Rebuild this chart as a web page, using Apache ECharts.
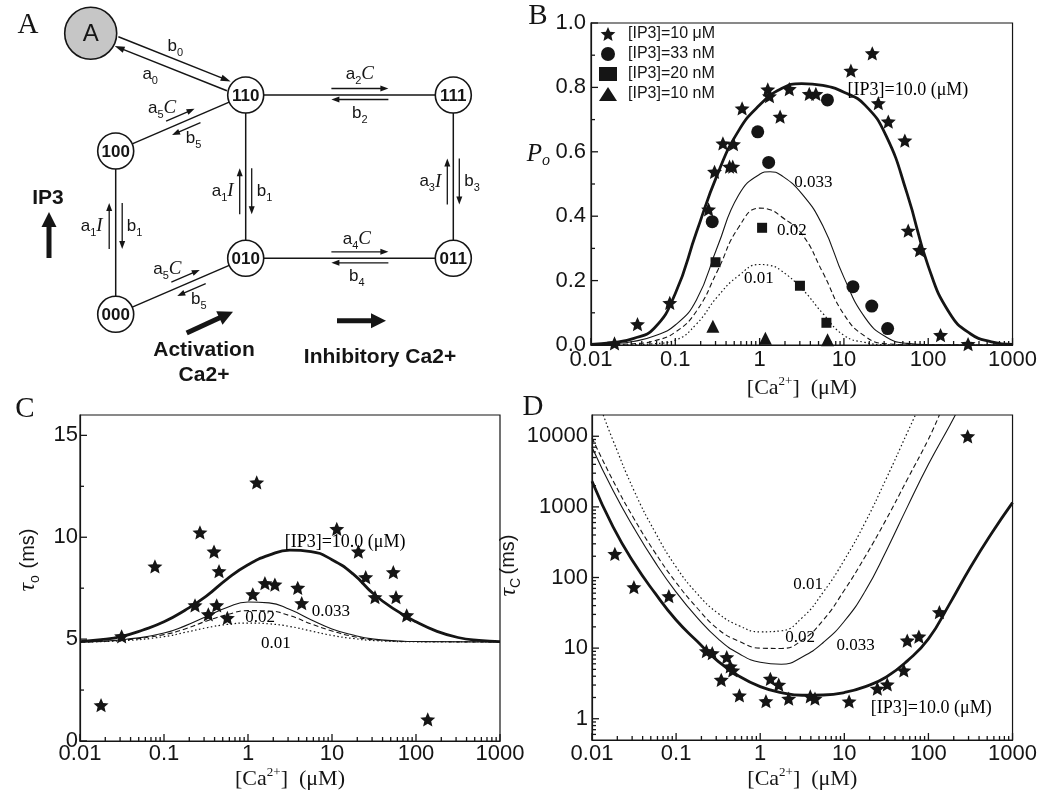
<!DOCTYPE html>
<html>
<head>
<meta charset="utf-8">
<title>IP3R gating scheme and fits</title>
<script src="https://cdn.jsdelivr.net/npm/echarts@6/dist/echarts.min.js"></script>
<style>
  html, body { margin: 0; padding: 0; background: #fff; }
  #main { width: 1040px; height: 794px; }
</style>
</head>
<body>
<div id="main"></div>
<script>
// ---------- panel A: gating scheme (diagram units, 1 unit = 10 px) ----------
const stateNodes = [
  ['A', 9.07, 3.33],
  ['110', 24.57, 9.5],
  ['111', 45.33, 9.5],
  ['100', 11.57, 15.1],
  ['010', 24.57, 25.83],
  ['011', 45.33, 25.83],
  ['000', 11.57, 31.43]
];
// [from, to, forward rate, backward rate]
const transitions = [
  ['A', '110', 'b0', 'a0'],
  ['100', '110', 'a5C', 'b5'],
  ['000', '010', 'a5C', 'b5'],
  ['110', '111', 'a2C', 'b2'],
  ['010', '011', 'a4C', 'b4'],
  ['000', '100', 'a1I', 'b1'],
  ['010', '110', 'a1I', 'b1'],
  ['011', '111', 'a3I', 'b3']
];
const cueArrows = [
  [4.9, 25.8, 4.9, 21.2],
  [18.67, 33.3, 23.3, 31.17],
  [33.7, 32.07, 38.6, 32.07]
];
const cueLabels = [
  ['IP3', 4.8, 19.8],
  ['Activation', 20.4, 35.0],
  ['Ca2+', 20.4, 37.5],
  ['Inhibitory Ca2+', 38.0, 35.7]
];

// ---------- panel B: open probability ----------
const bFit10uM = [[0.01,0.002],[0.0178,0.007],[0.0316,0.02],[0.0562,0.052],[0.1,0.16],[0.178,0.35],[0.316,0.53],[0.562,0.665],[1.0,0.745],[1.78,0.795],[3.16,0.812],[5.62,0.806],[10,0.785],[17.8,0.745],[31.6,0.65],[56.2,0.47],[100,0.245],[178,0.1],[316,0.035],[562,0.01],[1000,0.002]];
const bFit33nM = [[0.01,0.001],[0.0178,0.004],[0.0316,0.011],[0.0562,0.028],[0.1,0.062],[0.178,0.14],[0.316,0.305],[0.562,0.465],[1.0,0.53],[1.33,0.538],[1.78,0.528],[3.16,0.47],[5.62,0.37],[10,0.21],[17.8,0.085],[31.6,0.025],[56.2,0.005],[100,0.001],[1000,0]];
const bFit20nM = [[0.01,0],[0.0316,0.004],[0.0562,0.013],[0.1,0.04],[0.178,0.105],[0.316,0.23],[0.562,0.365],[1.0,0.425],[1.33,0.42],[1.78,0.4],[3.16,0.345],[5.62,0.225],[10,0.095],[17.8,0.027],[31.6,0.004],[100,0],[1000,0]];
const bFit10nM = [[0.01,0],[0.0316,0.001],[0.0562,0.004],[0.1,0.015],[0.178,0.065],[0.316,0.15],[0.562,0.215],[1.0,0.25],[1.33,0.247],[1.78,0.232],[3.16,0.175],[5.62,0.098],[10,0.03],[17.8,0.008],[31.6,0.001],[100,0],[1000,0]];
const bObs10uM = [[0.019,0.005],[0.0356,0.065],[0.086,0.131],[0.248,0.421],[0.292,0.538],[0.367,0.626],[0.44,0.554],[0.48,0.554],[0.49,0.624],[0.62,0.735],[1.25,0.794],[1.31,0.773],[1.75,0.709],[2.25,0.795],[3.88,0.78],[4.65,0.78],[12.1,0.852],[21.7,0.906],[25.6,0.751],[33.6,0.694],[52.8,0.635],[57.9,0.355],[78.9,0.295],[140,0.031],[297,0.003]];
const bObs33nM = [[0.274,0.383],[0.95,0.662],[1.28,0.567],[6.38,0.761],[12.8,0.181],[21.4,0.121],[33,0.051]];
const bObs20nM = [[0.30,0.257],[1.07,0.364],[3.01,0.184],[6.2,0.069]];
const bObs10nM = [[0.279,0.058],[1.17,0.021],[6.4,0.016]];
const bNotes = [['[IP3]=10.0 (μM)', 57.4, 0.792], ['0.033', 4.33, 0.504], ['0.02', 2.41, 0.357], ['0.01', 0.98, 0.207]];
const legendNames = ['[IP3]=10 μM', '[IP3]=33 nM', '[IP3]=20 nM', '[IP3]=10 nM'];
const bTicksY = [0, 0.2, 0.4, 0.6, 0.8, 1.0];
const bMinorY = [0.1, 0.3, 0.5, 0.7, 0.9];

// ---------- panel C: mean open time ----------
const cFit10uM = [[0.01,4.88],[0.0178,4.97],[0.0316,5.14],[0.0562,5.45],[0.1,5.85],[0.178,6.42],[0.316,7.1],[0.562,7.95],[1.0,8.65],[1.78,9.12],[3.16,9.37],[5.62,9.3],[10,8.9],[17.8,8.2],[31.6,7.2],[56.2,6.45],[100,5.85],[178,5.38],[316,5.08],[562,4.94],[1000,4.88]];
const cFit33nM = [[0.01,4.86],[0.0316,4.97],[0.1,5.3],[0.178,5.65],[0.316,6.1],[0.562,6.55],[1.0,6.82],[1.78,6.78],[3.16,6.45],[5.62,5.95],[10,5.5],[17.8,5.2],[31.6,5.0],[56.2,4.92],[100,4.88],[1000,4.86]];
const cFit20nM = [[0.01,4.86],[0.0316,4.95],[0.1,5.22],[0.178,5.5],[0.316,5.88],[0.562,6.2],[1.0,6.4],[1.78,6.38],[3.16,6.15],[5.62,5.75],[10,5.4],[17.8,5.13],[31.6,4.97],[100,4.88],[1000,4.86]];
const cFit10nM = [[0.01,4.86],[0.0316,4.92],[0.1,5.12],[0.178,5.33],[0.316,5.55],[0.562,5.72],[1.0,5.79],[1.78,5.75],[3.16,5.62],[5.62,5.4],[10,5.18],[17.8,5.03],[31.6,4.93],[100,4.87],[1000,4.86]];
const cObs10uM = [[0.0178,1.76],[0.0313,5.14],[0.078,8.57],[0.234,6.66],[0.268,10.24],[0.337,6.22],[0.394,9.3],[0.424,6.66],[0.452,8.34],[0.568,6.04],[1.14,7.2],[1.27,12.69],[1.59,7.75],[2.09,7.68],[3.91,7.52],[4.36,6.77],[11.4,10.41],[20.6,9.3],[25.2,8.04],[32.5,7.06],[53.7,8.29],[57.8,7.06],[77.5,6.17],[138,1.06]];
const cNotes = [['[IP3]=10.0 (μM)', 14.3, 9.75], ['0.033', 9.7, 6.35], ['0.02', 1.39, 6.08], ['0.01', 2.15, 4.78]];
const cTicksY = [0, 5, 10, 15];
const cMinorY = [2.5, 7.5, 12.5];

// ---------- panel D: mean closed time ----------
const dFit10uM = [[0.01,2300],[0.0178,520],[0.0316,160],[0.0562,60],[0.1,25],[0.178,12.5],[0.316,6.5],[0.562,4.0],[1.0,2.85],[1.78,2.35],[3.16,2.15],[5.62,2.17],[10,2.35],[17.8,2.85],[31.6,3.9],[56.2,6.6],[100,13.5],[178,42],[316,140],[562,420],[1000,1150]];
const dFit33nM = [[0.01,7000],[0.0178,1700],[0.0316,500],[0.0562,165],[0.1,62],[0.178,27],[0.316,13.5],[0.562,8.3],[1.0,6.3],[1.78,5.9],[3.16,7.5],[5.62,12],[10,24],[17.8,65],[31.6,240],[56.2,1000],[100,4000],[178,14000],[209,20000]];
const dFit20nM = [[0.01,9500],[0.0178,2350],[0.0316,680],[0.0562,225],[0.1,85],[0.178,37],[0.316,18.5],[0.562,12.5],[1.0,10],[1.78,9.9],[3.16,13],[5.62,25],[10,66],[17.8,200],[31.6,670],[56.2,2460],[100,9100],[135,20000]];
const dFit10nM = [[0.0136,20000],[0.0178,8700],[0.0316,1700],[0.0562,440],[0.1,141],[0.178,59],[0.316,31],[0.562,20.7],[1.0,17],[1.78,17.6],[3.16,27],[5.62,62],[10,177],[17.8,610],[31.6,2530],[56.2,11300],[70,20000]];
const dObs10uM = [[0.0187,216],[0.0315,73],[0.082,54.5],[0.229,9.06],[0.269,8.5],[0.344,3.56],[0.40,7.45],[0.44,5.5],[0.472,4.83],[0.566,2.14],[1.17,1.77],[1.32,3.68],[1.66,3.03],[2.18,1.92],[3.94,2.07],[4.48,1.92],[11.4,1.76],[24.7,2.66],[32.4,3.06],[51,4.83],[56,12.8],[77,14.6],[135,32.3],[293,10000]];
const dNotes = [['0.01', 3.72, 79.6], ['0.02', 2.99, 14.3], ['0.033', 13.6, 10.9], ['[IP3]=10.0 (μM)', 108, 1.385]];
const dTicksY = [1, 10, 100, 1000, 10000];

// log-axis ticks
const caTicks = [0.01, 0.1, 1, 10, 100, 1000];
const minorSteps = [2, 3, 4, 5, 6, 7, 8, 9];
const caDecades = [0.01, 0.1, 1, 10, 100];
const tauDecades = [1, 10, 100, 1000];

// ---------- styles ----------
const INK = '#151515';
const SANS = '"Liberation Sans", Arial, sans-serif';
const SERIF = '"Liberation Serif", "Times New Roman", serif';
const NODE_R = 18, BIG_R = 26;
const MAJOR_LEN = 7, MINOR_LEN = 4;

// where the small rate arrows sit on each transition
const arrowLayout = [
  { full: true, offF: 7, offB: 3, shiftF: 0, shiftB: -13, perpF: 19, perpB: 16 },
  { t: 0.52, len: 31, offF: 7.5, offB: 7.5, shiftF: -14, shiftB: 3, perpF: 21, perpB: 19 },
  { t: 0.56, len: 31, offF: 7.5, offB: 7.5, shiftF: -14, shiftB: 3, perpF: 21, perpB: 19 },
  { t: 0.55, len: 57, offF: 6.5, offB: 4.5, shiftF: 0, shiftB: 0, perpF: 21, perpB: 18 },
  { t: 0.55, len: 57, offF: 6.5, offB: 4.5, shiftF: -3, shiftB: -3, perpF: 19, perpB: 18 },
  { t: 0.54, len: 46, offF: 6.5, offB: 6.5, shiftF: 0, shiftB: 0, perpF: 13, perpB: 11 },
  { t: 0.41, len: 46, offF: 6, offB: 6, shiftF: 0, shiftB: 0, perpF: 12, perpB: 11 },
  { t: 0.47, len: 46, offF: 6, offB: 6, shiftF: 0, shiftB: 0, perpF: 12, perpB: 11 }
];

const RATE_RICH = {
  r: { fontFamily: SANS, fontSize: 17, lineHeight: 24, fill: INK },
  s: { fontFamily: SANS, fontSize: 11, lineHeight: 11, verticalAlign: 'bottom', fill: INK },
  c: { fontFamily: SERIF, fontStyle: 'italic', fontSize: 19, lineHeight: 24, fill: INK }
};

const nodeById = {};
stateNodes.forEach(n => { nodeById[n[0]] = n; });

function arrowParts(x1, y1, x2, y2, w, headLen, headW) {
  const dx = x2 - x1, dy = y2 - y1, L = Math.hypot(dx, dy);
  const ux = dx / L, uy = dy / L;
  const bx = x2 - ux * headLen, by = y2 - uy * headLen;
  return [
    { type: 'line', shape: { x1: x1, y1: y1, x2: bx + ux, y2: by + uy }, style: { stroke: INK, lineWidth: w } },
    { type: 'polygon', shape: { points: [[x2, y2], [bx - uy * headW, by + ux * headW], [bx + uy * headW, by - ux * headW]] }, style: { fill: INK } }
  ];
}

function rateText(code, x, y, nx, ny, dist) {
  let txt = '{r|' + code[0] + '}{s|' + code[1] + '}';
  if (code.length > 2) txt += '{c|' + code.slice(2) + '}';
  let align = 'center', px = x + nx * dist, py = y + ny * dist;
  if (Math.abs(nx) > 0.9) {
    align = nx < 0 ? 'right' : 'left';
    py = y;
  }
  return { type: 'text', style: { text: txt, x: px, y: py, align: align, verticalAlign: 'middle', rich: RATE_RICH } };
}

function renderTransition(params, api) {
  const tr = transitions[params.dataIndex];
  const lay = arrowLayout[params.dataIndex];
  const p = api.coord([api.value(0), api.value(1)]);
  const q = api.coord([api.value(2), api.value(3)]);
  const rp = tr[0] === 'A' ? BIG_R : NODE_R, rq = NODE_R;
  const dx = q[0] - p[0], dy = q[1] - p[1], L = Math.hypot(dx, dy);
  const ux = dx / L, uy = dy / L, nx = uy, ny = -ux;
  let kids = [];
  let cx, cy;
  if (lay.full) {
    const a0 = rp + 1, a1 = L - rq - 1;
    kids = kids.concat(arrowParts(p[0] + ux * a0 + nx * lay.offF, p[1] + uy * a0 + ny * lay.offF,
      p[0] + ux * a1 + nx * lay.offF, p[1] + uy * a1 + ny * lay.offF, 1.5, 10, 3.2));
    kids = kids.concat(arrowParts(p[0] + ux * a1 - nx * lay.offB, p[1] + uy * a1 - ny * lay.offB,
      p[0] + ux * a0 - nx * lay.offB, p[1] + uy * a0 - ny * lay.offB, 1.5, 10, 3.2));
    cx = p[0] + ux * L / 2; cy = p[1] + uy * L / 2;
  } else {
    kids.push({ type: 'line', shape: { x1: p[0] + ux * rp, y1: p[1] + uy * rp, x2: q[0] - ux * rq, y2: q[1] - uy * rq },
      style: { stroke: INK, lineWidth: 1.5 } });
    cx = p[0] + ux * L * lay.t; cy = p[1] + uy * L * lay.t;
    const h = lay.len / 2;
    kids = kids.concat(arrowParts(cx - ux * h + nx * lay.offF, cy - uy * h + ny * lay.offF,
      cx + ux * h + nx * lay.offF, cy + uy * h + ny * lay.offF, 1.3, 8, 3));
    kids = kids.concat(arrowParts(cx + ux * h - nx * lay.offB, cy + uy * h - ny * lay.offB,
      cx - ux * h - nx * lay.offB, cy - uy * h - ny * lay.offB, 1.3, 8, 3));
  }
  kids.push(rateText(tr[2], cx + ux * lay.shiftF, cy + uy * lay.shiftF, nx, ny, lay.perpF));
  kids.push(rateText(tr[3], cx + ux * lay.shiftB, cy + uy * lay.shiftB, -nx, -ny, lay.perpB));
  return { type: 'group', children: kids };
}

function renderNode(params, api) {
  const id = stateNodes[params.dataIndex][0];
  const c = api.coord([api.value(0), api.value(1)]);
  const big = id === 'A';
  return {
    type: 'group',
    children: [
      { type: 'circle', shape: { cx: c[0], cy: c[1], r: big ? BIG_R : NODE_R },
        style: { fill: big ? '#c6c6c6' : '#fff', stroke: INK, lineWidth: 1.6 } },
      { type: 'text', style: { text: id, x: c[0], y: c[1] + 1, align: 'center', verticalAlign: 'middle',
        font: big ? '24px ' + SANS : 'bold 17px ' + SANS, fill: INK } }
    ]
  };
}

function renderCue(params, api) {
  const p = api.coord([api.value(0), api.value(1)]);
  const q = api.coord([api.value(2), api.value(3)]);
  return { type: 'group', children: arrowParts(p[0], p[1], q[0], q[1], 5, 15, 7.5) };
}

function renderCueLabel(params, api) {
  const c = api.coord([api.value(0), api.value(1)]);
  return { type: 'text', style: { text: cueLabels[params.dataIndex][0], x: c[0], y: c[1], align: 'center',
    verticalAlign: 'middle', font: 'bold 21px ' + SANS, fill: INK } };
}

function starPath() {
  let d = '';
  for (let i = 0; i < 10; i++) {
    const r = i % 2 ? 0.46 : 1;
    const a = Math.PI / 5 * i - Math.PI / 2;
    d += (i ? 'L' : 'M') + (r * Math.cos(a)).toFixed(3) + ' ' + (r * Math.sin(a)).toFixed(3);
  }
  return 'path://' + d + 'Z';
}
const STAR = starPath();

const caMinor = [];
caDecades.forEach(d => minorSteps.forEach(m => caMinor.push(+(d * m).toPrecision(3))));
const tauMinor = [0.6, 0.7, 0.8, 0.9];
tauDecades.forEach(d => minorSteps.forEach(m => tauMinor.push(d * m)));

function curve(data, gi, width, type) {
  return { type: 'line', xAxisIndex: gi, yAxisIndex: gi, data: data, showSymbol: false, symbol: 'none',
    smooth: 0.5, silent: true, z: 3,
    lineStyle: { color: INK, width: width, type: type || 'solid' } };
}
function marks(name, data, gi, symbol, size) {
  return { name: name, type: 'scatter', xAxisIndex: gi, yAxisIndex: gi, data: data, symbol: symbol,
    symbolSize: size, symbolKeepAspect: true, silent: true, z: 5, itemStyle: { color: INK, opacity: 1 } };
}
// curve annotations, anchored at data coordinates
function notes(list, gi) {
  return {
    type: 'custom', xAxisIndex: gi, yAxisIndex: gi, coordinateSystem: 'cartesian2d', silent: true, clip: false, z: 6,
    data: list.map(n => [n[1], n[2]]),
    renderItem: function (params, api) {
      const c = api.coord([api.value(0), api.value(1)]);
      const txt = list[params.dataIndex][0];
      return { type: 'group', children: [{ type: 'text', style: { text: txt, x: c[0], y: c[1], align: 'center',
        verticalAlign: 'middle', font: (txt.length > 6 ? 18 : 17) + 'px ' + SERIF, fill: '#000' } }] };
    }
  };
}
// all tick marks of one panel, placed through the axis scales and pointing into the plot
function tickLayer(gi, inner, xLo, yLo, xMajor, xMinor, yMajor, yMinor) {
  return {
    type: 'custom', xAxisIndex: gi, yAxisIndex: gi, coordinateSystem: 'cartesian2d', silent: true, clip: false, z: 8,
    data: [inner],
    renderItem: function (params, api) {
      const kids = [];
      const addX = (v, len) => {
        const p = api.coord([v, yLo]);
        kids.push({ type: 'line', shape: { x1: p[0], y1: p[1], x2: p[0], y2: p[1] - len }, style: { stroke: INK, lineWidth: 1.3 } });
      };
      const addY = (v, len) => {
        const p = api.coord([xLo, v]);
        kids.push({ type: 'line', shape: { x1: p[0], y1: p[1], x2: p[0] + len, y2: p[1] }, style: { stroke: INK, lineWidth: 1.3 } });
      };
      xMajor.forEach(v => addX(v, MAJOR_LEN));
      xMinor.forEach(v => addX(v, MINOR_LEN));
      yMajor.forEach(v => addY(v, MAJOR_LEN));
      yMinor.forEach(v => addY(v, MINOR_LEN));
      return { type: 'group', children: kids };
    }
  };
}

const caName = '[Ca{sup|2+}]  (μM)';
const caNameStyle = { fontFamily: SERIF, fontSize: 22, color: INK, lineHeight: 26,
  rich: { sup: { fontFamily: SERIF, fontSize: 13, lineHeight: 13, verticalAlign: 'top', color: INK } } };
function caAxis(gi, margin, gap) {
  return {
    gridIndex: gi, type: 'log', logBase: 10, min: 0.01, max: 1000,
    axisLine: { show: true, onZero: false, lineStyle: { color: INK, width: 1.2 } },
    axisTick: { show: false },
    axisLabel: { margin: margin, fontFamily: SANS, fontSize: 22, color: INK, formatter: v => String(v) },
    splitLine: { show: false },
    name: caName, nameLocation: 'middle', nameGap: gap, nameTextStyle: caNameStyle
  };
}
const gridFrame = { show: true, borderColor: INK, borderWidth: 1.2, backgroundColor: 'transparent' };
const tauRich = {
  t: { fontFamily: SERIF, fontStyle: 'italic', fontSize: 24, lineHeight: 28, color: INK },
  s: { fontFamily: SANS, fontSize: 14, lineHeight: 14, verticalAlign: 'bottom', color: INK },
  m: { fontFamily: SANS, fontSize: 20, lineHeight: 28, color: INK }
};

const chart = echarts.init(document.getElementById('main'));
chart.setOption({
  animation: false,
  backgroundColor: '#fff',
  grid: [
    { left: 0, top: 0, width: 520, height: 390 },
    Object.assign({ left: 591, top: 23, width: 423, height: 322 }, gridFrame),
    Object.assign({ left: 80, top: 415, width: 420, height: 326 }, gridFrame),
    Object.assign({ left: 592, top: 415, width: 422, height: 325 }, gridFrame)
  ],
  xAxis: [
    { gridIndex: 0, type: 'value', min: 0, max: 52, show: false },
    caAxis(1, 4, 30),
    caAxis(2, 2, 24),
    caAxis(3, 3, 25)
  ],
  yAxis: [
    { gridIndex: 0, type: 'value', min: 0, max: 39, inverse: true, show: false },
    {
      gridIndex: 1, type: 'value', min: 0, max: 1, interval: 0.2,
      axisLine: { show: true, onZero: false, lineStyle: { color: INK, width: 1.2 } },
      axisTick: { show: false },
      axisLabel: { margin: 5, fontFamily: SANS, fontSize: 22, color: INK, formatter: v => v.toFixed(1) },
      splitLine: { show: false },
      name: '{i|P}{s|o}', nameLocation: 'middle', nameRotate: 0, nameGap: 41,
      nameTextStyle: { padding: [0, 0, 60, 0], rich: {
        i: { fontFamily: SERIF, fontStyle: 'italic', fontSize: 25, lineHeight: 30, color: INK },
        s: { fontFamily: SERIF, fontStyle: 'italic', fontSize: 16, lineHeight: 16, verticalAlign: 'bottom', color: INK } } }
    },
    {
      gridIndex: 2, type: 'value', min: 0, max: 16, interval: 5,
      axisLine: { show: true, onZero: false, lineStyle: { color: INK, width: 1.2 } },
      axisTick: { show: false },
      axisLabel: { margin: 2, fontFamily: SANS, fontSize: 22, color: INK, showMaxLabel: false },
      splitLine: { show: false },
      name: '{t|τ}{s|o}  {m|(ms)}', nameLocation: 'middle', nameGap: 38,
      nameTextStyle: { padding: [0, 0, 0, 36], rich: tauRich }
    },
    {
      gridIndex: 3, type: 'log', logBase: 10, min: 0.5, max: 20000,
      axisLine: { show: true, onZero: false, lineStyle: { color: INK, width: 1.2 } },
      axisTick: { show: false },
      axisLabel: { margin: 4, fontFamily: SANS, fontSize: 22, color: INK, showMinLabel: false, showMaxLabel: false,
        formatter: v => String(v) },
      splitLine: { show: false },
      name: '{t|τ}{s|C} {m|(ms)}', nameLocation: 'middle', nameGap: 66,
      nameTextStyle: { padding: [0, 0, 0, 24], rich: tauRich }
    }
  ],
  legend: {
    left: 599, top: 26, padding: 0, orient: 'vertical', itemWidth: 18, itemHeight: 14, itemGap: 4, selectedMode: false,
    textStyle: { fontFamily: SANS, fontSize: 16, lineHeight: 16, color: INK, padding: [0, 0, 0, 6] },
    data: legendNames
  },
  graphic: [
    { type: 'text', x: 28, y: 25, style: { text: 'A', font: '29px ' + SERIF, fill: INK, align: 'center', verticalAlign: 'middle' } },
    { type: 'text', x: 538, y: 16, style: { text: 'B', font: '29px ' + SERIF, fill: INK, align: 'center', verticalAlign: 'middle' } },
    { type: 'text', x: 25, y: 409, style: { text: 'C', font: '29px ' + SERIF, fill: INK, align: 'center', verticalAlign: 'middle' } },
    { type: 'text', x: 533, y: 407, style: { text: 'D', font: '29px ' + SERIF, fill: INK, align: 'center', verticalAlign: 'middle' } }
  ],
  series: [
    // panel A
    { type: 'custom', xAxisIndex: 0, yAxisIndex: 0, coordinateSystem: 'cartesian2d', silent: true, clip: false, z: 2,
      data: transitions.map(t => [nodeById[t[0]][1], nodeById[t[0]][2], nodeById[t[1]][1], nodeById[t[1]][2]]),
      encode: { x: [0, 2], y: [1, 3] }, renderItem: renderTransition },
    { type: 'custom', xAxisIndex: 0, yAxisIndex: 0, coordinateSystem: 'cartesian2d', silent: true, clip: false, z: 3,
      data: stateNodes.map(n => [n[1], n[2]]), renderItem: renderNode },
    { type: 'custom', xAxisIndex: 0, yAxisIndex: 0, coordinateSystem: 'cartesian2d', silent: true, clip: false, z: 3,
      data: cueArrows, encode: { x: [0, 2], y: [1, 3] }, renderItem: renderCue },
    { type: 'custom', xAxisIndex: 0, yAxisIndex: 0, coordinateSystem: 'cartesian2d', silent: true, clip: false, z: 3,
      data: cueLabels.map(l => [l[1], l[2]]), renderItem: renderCueLabel },

    // panel B
    curve(bFit10uM, 1, 2.8),
    curve(bFit33nM, 1, 1.1),
    curve(bFit20nM, 1, 1.1, [5, 3]),
    curve(bFit10nM, 1, 1.2, [1.5, 2.5]),
    marks(legendNames[0], bObs10uM, 1, STAR, 15),
    marks(legendNames[1], bObs33nM, 1, 'circle', 13),
    marks(legendNames[2], bObs20nM, 1, 'rect', 10),
    marks(legendNames[3], bObs10nM, 1, 'triangle', 13),
    notes(bNotes, 1),
    tickLayer(1, [1, 0.5], 0.01, 0, caTicks, caMinor, bTicksY, bMinorY),

    // panel C
    curve(cFit10uM, 2, 2.8),
    curve(cFit33nM, 2, 1.1),
    curve(cFit20nM, 2, 1.1, [5, 3]),
    curve(cFit10nM, 2, 1.2, [1.5, 2.5]),
    marks('tau-open', cObs10uM, 2, STAR, 15),
    notes(cNotes, 2),
    tickLayer(2, [1, 8], 0.01, 0, caTicks, caMinor, cTicksY, cMinorY),

    // panel D
    curve(dFit10uM, 3, 2.8),
    curve(dFit33nM, 3, 1.1),
    curve(dFit20nM, 3, 1.1, [5, 3]),
    curve(dFit10nM, 3, 1.2, [1.5, 2.5]),
    marks('tau-closed', dObs10uM, 3, STAR, 15),
    notes(dNotes, 3),
    tickLayer(3, [1, 100], 0.01, 0.5, caTicks, caMinor, dTicksY, tauMinor)
  ]
});
</script>
</body>
</html>
